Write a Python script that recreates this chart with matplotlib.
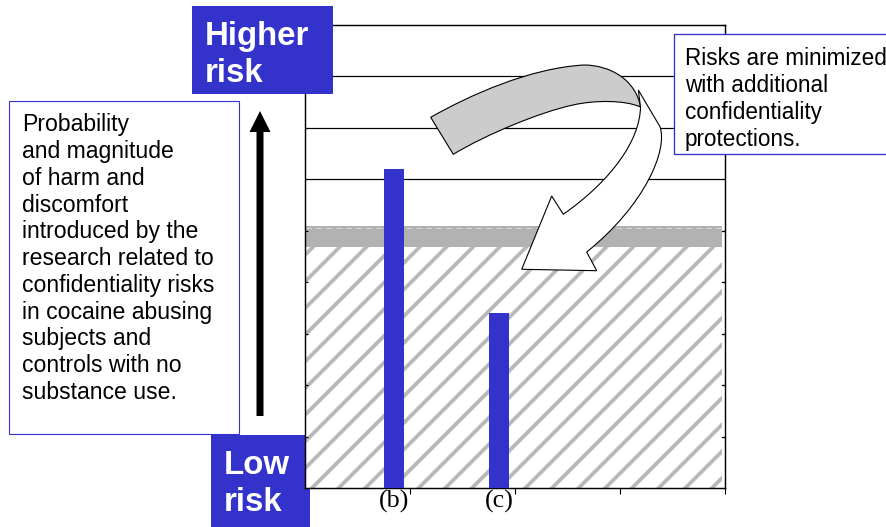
#!/usr/bin/env python3
"""
Risk diagram: two blue bars ((b), (c)) over a hatched "minimized risk" zone,
with Higher/Low risk boxes, an explanatory text box and a curved block arrow.
Decorations are laid out on full-figure pixel overlays (x 0..886, y 0..527 top-down).
"""
import numpy as np
import matplotlib.pyplot as plt
from matplotlib.patches import Rectangle, FancyArrow, PathPatch
from matplotlib.path import Path

DPI = 80
W, H = 886, 527
BLUE = "#3333cc"
ASC = 0.73  # ascent of Liberation Sans, in em

categories = ["(b)", "(c)"]
risk_values = [6.2, 3.4]
y_ticks = list(range(0, 10))
x_ticks = [1, 2, 3, 4]
zone_levels = [4.68, 5.09]  # hatched zone top, gray band top

left_lines = ["Probability", "and magnitude", "of harm and", "discomfort",
              "introduced by the", "research related to", "confidentiality risks",
              "in cocaine abusing", "subjects and", "controls with no", "substance use."]
right_lines = ["Risks are minimized", "with additional", "confidentiality", "protections."]

plt.rcParams["hatch.linewidth"] = 3.4
plt.rcParams["hatch.color"] = "#b8b8b8"

fig = plt.figure(figsize=(W / DPI, H / DPI), dpi=DPI, facecolor="white")


def overlay(z):
    a = fig.add_axes([0, 0, 1, 1], zorder=z)
    a.set_xlim(0, W)
    a.set_ylim(H, 0)
    a.axis("off")
    return a


def px(v):
    # pixels -> points at this dpi
    return v * 72 / DPI


def block_text(a, x, baseline, lines, size, **kw):
    # place a multi-line text by the baseline of its first line
    a.text(x, baseline - ASC * size, "\n".join(lines), fontsize=px(size),
           family="Liberation Sans", va="top", ha="left", **kw)


back = overlay(0)

# chart
ax = fig.add_axes([305 / W, 1 - 488 / H, 420 / W, 463 / H], zorder=1)
ax.set_facecolor("none")
ax.set_xlim(0, 4)
ax.set_ylim(0, 9)
for s in ax.spines.values():
    s.set_linewidth(1.3)
    s.set_color("black")

for yv in y_ticks[1:-1]:
    ax.axhline(yv, color="black", lw=1.1, zorder=0.5)

ax.add_patch(Rectangle((0.01, 0), 3.96, zone_levels[0], facecolor="white",
                       edgecolor="#b8b8b8", hatch="/", lw=0, zorder=1))
ax.add_patch(Rectangle((0.01, zone_levels[0]), 3.96, zone_levels[1] - zone_levels[0],
                       facecolor="#b2b2b2", lw=0, zorder=1.1))
ax.plot([0.01, 3.97], [zone_levels[1] - 0.04] * 2, color="#d6d6d6", lw=1,
        ls=(0, (5, 4)), zorder=1.2)

bar_x = np.arange(len(categories)) + 0.85
ax.bar(bar_x, risk_values, width=0.19, color=BLUE, zorder=3)

ax.set_yticks(y_ticks)
ax.set_yticklabels([])
ax.tick_params(axis="y", direction="in", length=px(3), width=1, left=True, right=True)
ax.set_xticks(x_ticks)
ax.set_xticklabels([])
ax.set_xticks(bar_x, minor=True)
ax.set_xticklabels(categories, minor=True, fontsize=px(26),
                   family=["Liberation Serif", "DejaVu Serif"])
ax.tick_params(axis="x", which="major", direction="out", length=px(6), width=1)
ax.tick_params(axis="x", which="minor", length=0, pad=px(1.5))

front = overlay(2)

# left explanatory box and black arrow (behind chart)
back.add_patch(Rectangle((9, 101), 230, 333, facecolor="white", edgecolor=BLUE, lw=1))
block_text(back, 22, 130, left_lines, 23, linespacing=1.21, color="black")
back.add_patch(FancyArrow(260, 416, 0, -305, width=7, head_width=21, head_length=21,
                          length_includes_head=True, color="black", lw=0))

# Low risk box (behind chart)
back.add_patch(Rectangle((211, 435), 99, 100, facecolor=BLUE, lw=0))
block_text(back, 224, 474, ["Low", "risk"], 33, weight="bold", color="white",
           linespacing=1.27)

# Higher risk box (in front)
front.add_patch(Rectangle((192, 6), 141, 88, facecolor=BLUE, lw=0))
block_text(front, 205, 45, ["Higher", "risk"], 33, weight="bold", color="white",
           linespacing=1.27)

# right box
front.add_patch(Rectangle((674, 34), 230, 120, facecolor="white", edgecolor=BLUE, lw=1.2))
block_text(front, 685, 63, right_lines, 22.5, linespacing=1.23, color="black")

# curved block arrow: gray back band
M, L, C = Path.MOVETO, Path.LINETO, Path.CURVE4
back_verts = [
    (430.7, 117.3),
    (470, 95), (530, 68), (584, 65),
    (610, 65), (636, 80), (640.5, 107),
    (625, 100), (595, 100), (573, 105),
    (540, 112), (485, 135), (453.3, 154.3),
    (430.7, 117.3),
]
back_codes = [M, C, C, C, C, C, C, C, C, C, C, C, C, L]
front.add_patch(PathPatch(Path(back_verts, back_codes), facecolor="#cccccc",
                          edgecolor="black", lw=1, joinstyle="round"))

# front face with the head
front_verts = [
    (638.3, 90),
    (660, 126.7),
    (668, 150), (645, 205), (586.7, 252),
    (596.7, 270.7),
    (521.7, 269.3),
    (551.7, 196),
    (563.3, 214.3),
    (612, 180), (640, 140), (640.5, 107),
    (638.3, 90),
]
front_codes = [M, L, C, C, C, L, L, L, L, C, C, C, L]
front.add_patch(PathPatch(Path(front_verts, front_codes), facecolor="white",
                          edgecolor="black", lw=1, joinstyle="miter"))

fig.savefig("out.png", dpi=DPI)
